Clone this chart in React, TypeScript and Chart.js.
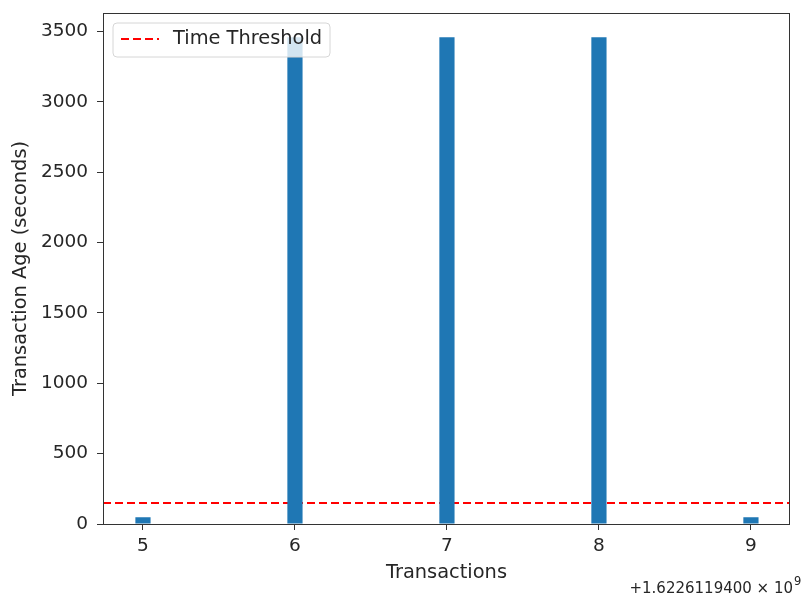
import React, { useEffect, useRef } from "react";
import { Chart, registerables } from "chart.js";

Chart.register(...registerables);

const transactions = [5, 6, 7, 8, 9];
const ages = [48, 3460, 3460, 3460, 48];
const threshold = 150;
const xTicks = [5, 6, 7, 8, 9];
const yTicks = [0, 500, 1000, 1500, 2000, 2500, 3000, 3500];
const thresholdLabel = "Time Threshold";
const xTitle = "Transactions";
const yTitle = "Transaction Age (seconds)";
const offsetText = "+1.6226119400 × 10";
const offsetExp = "9";
const X_MIN = 4.737;
const X_MAX = 9.257;
const Y_MAX = 3632;

const FONT = "'DejaVu Sans', sans-serif";
const TEXT = "#262626";
const FS = 18.5;
const FS_TITLE = 19.4;

const framePlugin = {
  id: "framePlugin",
  afterDraw(chart: any) {
    const { ctx, chartArea } = chart;
    const { left, right, top, bottom } = chartArea;
    ctx.save();
    ctx.strokeStyle = "#333";
    ctx.lineWidth = 1;
    ctx.strokeRect(left + 0.5, top + 0.5, right - left - 1, bottom - top);
    // legend
    const lx = 113, ly = 23, lw = 217, lh = 34, r = 4;
    ctx.beginPath();
    ctx.moveTo(lx + r, ly);
    ctx.arcTo(lx + lw, ly, lx + lw, ly + lh, r);
    ctx.arcTo(lx + lw, ly + lh, lx, ly + lh, r);
    ctx.arcTo(lx, ly + lh, lx, ly, r);
    ctx.arcTo(lx, ly, lx + lw, ly, r);
    ctx.closePath();
    ctx.fillStyle = "rgba(255,255,255,0.8)";
    ctx.fill();
    ctx.strokeStyle = "#d6d6d6";
    ctx.stroke();
    ctx.beginPath();
    ctx.setLineDash([8, 4]);
    ctx.strokeStyle = "#ff0000";
    ctx.lineWidth = 2;
    ctx.moveTo(121, 39);
    ctx.lineTo(159, 39);
    ctx.stroke();
    ctx.setLineDash([]);
    ctx.fillStyle = TEXT;
    ctx.font = `${FS_TITLE}px ${FONT}`;
    ctx.textBaseline = "middle";
    ctx.textAlign = "left";
    ctx.fillText(thresholdLabel, 173, 39);
    // axis titles
    ctx.textAlign = "center";
    ctx.fillText(xTitle, (left + right) / 2, 573);
    ctx.save();
    ctx.translate(21, (top + bottom) / 2);
    ctx.rotate(-Math.PI / 2);
    ctx.fillText(yTitle, 0, 0);
    ctx.restore();
    // offset text
    ctx.font = `15px ${FONT}`;
    ctx.textAlign = "right";
    ctx.textBaseline = "alphabetic";
    ctx.fillText(offsetText, 793, 593);
    ctx.font = `11.5px ${FONT}`;
    ctx.textAlign = "left";
    ctx.fillText(offsetExp, 794, 585);
    ctx.restore();
  },
};

export default function App() {
  const ref = useRef<HTMLCanvasElement | null>(null);
  useEffect(() => {
    if (!ref.current) return;
    const chart = new Chart(ref.current, {
      type: "bar",
      data: {
        datasets: [
          {
            type: "bar",
            label: "Age",
            data: transactions.map((t, i) => ({ x: t, y: ages[i] })),
            backgroundColor: "#1f77b4",
            borderWidth: 0,
            barPercentage: 1,
            categoryPercentage: 0.1,
          } as any,
          {
            type: "line",
            label: thresholdLabel,
            data: [
              { x: X_MIN, y: threshold },
              { x: X_MAX, y: threshold },
            ],
            borderColor: "#ff0000",
            borderWidth: 2,
            borderDash: [8, 4],
            pointRadius: 0,
            fill: false,
          } as any,
        ],
      },
      options: {
        animation: false,
        responsive: false,
        layout: { padding: { left: 0, top: 13, right: 13, bottom: 0 } },
        plugins: { legend: { display: false }, tooltip: { enabled: false } },
        scales: {
          x: {
            type: "linear",
            min: X_MIN,
            max: X_MAX,
            offset: false,
            grid: { offset: false, drawOnChartArea: false, drawTicks: true, tickLength: 6, color: "#333" },
            border: { display: false },
            ticks: {
              autoSkip: false,
              padding: 5,
              color: TEXT,
              font: { family: FONT, size: FS },
              maxRotation: 0,
              callback: (v: any) => String(v),
            },
            afterBuildTicks(scale: any) {
              scale.ticks = xTicks.map((v) => ({ value: v }));
            },
            afterFit(scale: any) {
              scale.height = 70;
            },
          },
          y: {
            min: 0,
            max: Y_MAX,
            grid: { offset: false, drawOnChartArea: false, drawTicks: true, tickLength: 6, color: "#333" },
            border: { display: false },
            ticks: {
              autoSkip: false,
              padding: 9,
              color: TEXT,
              font: { family: FONT, size: FS },
              callback: (v: any) => String(v),
            },
            afterBuildTicks(scale: any) {
              scale.ticks = yTicks.map((v) => ({ value: v }));
            },
            afterFit(scale: any) {
              scale.width = 103;
              scale.paddingTop = 0;
              scale.paddingBottom = 0;
            },
          },
        },
      } as any,
      plugins: [framePlugin],
    });
    return () => chart.destroy();
  }, []);
  return (
    <div style={{ position: "fixed", left: 0, top: 0, width: 803, height: 594 }}>
      <canvas ref={ref} width={803} height={594} />
    </div>
  );
}
